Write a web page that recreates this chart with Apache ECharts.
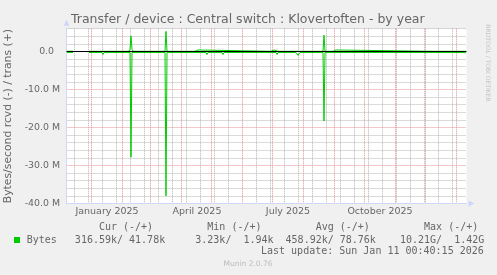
<!DOCTYPE html>
<html><head><meta charset="utf-8">
<script src="https://cdn.jsdelivr.net/npm/echarts@6/dist/echarts.min.js"></script>
<style>html,body{margin:0;padding:0;background:#f0f0f0;}#c{width:497px;height:275px;}</style>
</head><body><div id="c"></div>
<script>
// ---- data (values in M bytes/second) ----
const rcvdDates = ['2024-12-07','2024-12-13','2024-12-14','2024-12-28','2024-12-29','2025-01-11','2025-01-12','2025-01-13','2025-02-08','2025-02-09','2025-02-10','2025-03-15','2025-03-16','2025-03-17','2025-04-25','2025-04-26','2025-04-27','2025-05-11','2025-05-12','2025-05-13','2025-05-30','2025-05-31','2025-06-01','2025-07-04','2025-07-05','2025-07-06','2025-07-24','2025-07-25','2025-07-26','2025-07-27','2025-07-28','2025-08-20','2025-08-21','2025-08-22','2025-09-11','2025-09-12','2025-09-13','2025-09-26','2025-09-27','2025-09-28','2025-10-12','2025-10-13','2025-10-14','2025-11-20','2025-11-21','2025-11-22','2025-12-28','2025-12-29','2025-12-30','2026-01-10'];
const rcvdValues = [0.25,0.25,null,null,0.25,0.25,0.8,0.25,0.25,27.8,0.25,0.25,38.0,0.25,0.25,0.8,0.25,0.25,0.8,0.25,0.25,0.7,0.25,0.25,0.8,0.25,0.25,0.6,1.0,0.5,0.25,0.25,18.3,0.25,0.25,0.7,0.25,0.25,0.7,0.25,0.25,0.7,0.25,0.25,0.7,0.25,0.25,0.7,0.25,0.3];
const transDates = ['2024-12-07','2024-12-08','2024-12-09','2024-12-10','2024-12-13','2024-12-14','2024-12-28','2024-12-29','2025-01-18','2025-01-19','2025-01-20','2025-02-07','2025-02-08','2025-02-09','2025-02-10','2025-02-11','2025-03-15','2025-03-16','2025-03-17','2025-04-14','2025-04-15','2025-04-16','2025-04-17','2025-04-18','2025-06-29','2025-06-30','2025-07-01','2025-07-02','2025-07-03','2025-07-06','2025-07-07','2025-07-08','2025-07-23','2025-07-24','2025-07-25','2025-08-20','2025-08-21','2025-08-22','2025-08-25','2025-08-26','2025-08-27','2025-08-30','2025-08-31','2025-09-01','2025-09-02','2025-09-03','2025-09-04','2025-12-05','2025-12-06','2025-12-07','2025-12-13','2025-12-14','2025-12-15','2026-01-10'];
const transValues = [0.05,0.05,0.4,0.05,0.05,null,null,0.05,0.05,0.4,0.05,0.05,0.6,4.1,0.6,0.05,0.05,5.3,0.05,0.05,0.4,0.4,0.4,0.05,0.05,0.4,0.05,0.4,0.05,0.05,0.4,0.05,0.05,0.4,0.05,0.05,4.3,0.05,0.05,0.4,0.05,0.05,0.4,0.05,0.4,0.4,0.05,0.05,0.4,0.05,0.05,0.4,0.05,0.05];

// ---- axes / grid definitions ----
const xStart = '2024-12-07', xEnd = '2026-01-11';
const monthStarts = ['2025-01-01','2025-02-01','2025-03-01','2025-04-01','2025-05-01','2025-06-01','2025-07-01','2025-08-01','2025-09-01','2025-10-01','2025-11-01','2025-12-01','2026-01-01'];
const weekLines = ['2024-12-15','2024-12-29','2025-01-12','2025-01-26','2025-02-09','2025-02-23','2025-03-09','2025-03-23','2025-04-06','2025-04-20','2025-05-04','2025-05-18','2025-06-15','2025-06-29','2025-07-13','2025-07-27','2025-08-10','2025-08-24','2025-09-07','2025-09-21','2025-10-05','2025-10-19','2025-11-02','2025-11-16','2025-11-30','2025-12-14','2025-12-28'];
const xLabelDates = ['2025-01-16','2025-04-16','2025-07-16','2025-10-16'];
const xLabelTexts = ['January 2025','April 2025','July 2025','October 2025'];
const yMajor = [-40,-30,-20,-10,0];
const yMinor = [-38,-36,-34,-32,-28,-26,-24,-22,-18,-16,-14,-12,-8,-6,-4,-2,2,4,6];
const yMin = -40, yMax = 6;

const M = 1e6;
const day0 = s => Date.parse(s + 'T00:00:00Z');
const noon = s => Date.parse(s + 'T12:00:00Z');
const xLabelTimes = xLabelDates.map(noon);

const rcvdData = rcvdDates.map((d,i) => [noon(d), rcvdValues[i] == null ? null : -rcvdValues[i]*M]);
const transData = transDates.map((d,i) => [noon(d), transValues[i] == null ? null : transValues[i]*M]);

const FONT = 'DejaVu Sans';
const TXT = '#666666';
const GREY = '#b4b4b4', RED = '#e49090', AXIS = '#CFD6F8';

const chart = echarts.init(document.getElementById('c'), null, {renderer:'canvas'});
chart.setOption({
  animation: false,
  backgroundColor: '#f0f0f0',
  title: {
    text: 'Transfer / device : Central switch : Klovertoften - by year',
    left: 66, top: 8,
    textStyle: {fontFamily: FONT, fontSize: 12.5, fontWeight: 'normal', color: TXT}
  },
  grid: {left: 66.5, right: 30.5, top: 28.7, bottom: 71.5, show: true, backgroundColor: '#ffffff', borderWidth: 0, outerBoundsMode: 'none', containLabel: false},
  xAxis: [{
    type: 'value', min: day0(xStart), max: day0(xEnd), position: 'bottom', z: 1,
    axisLine: {onZero: false, lineStyle: {color: AXIS, width: 1}, symbol: ['none','triangle'], symbolSize: [6,6], symbolOffset: [0,5]},
    axisTick: {show: false, customValues: monthStarts.map(day0)},
    splitLine: {show: true, lineStyle: {color: RED, width: 1, type: [1,1]}},
    axisLabel: {
      customValues: xLabelTimes, margin: 3.5,
      fontFamily: FONT, fontSize: 9.5, color: TXT,
      formatter: v => { const i = xLabelTimes.indexOf(v); return i >= 0 ? xLabelTexts[i] : ''; }
    }
  }, {
    type: 'value', min: day0(xStart), max: day0(xEnd), position: 'bottom', z: 0,
    axisLine: {show: false}, axisLabel: {show: false},
    axisTick: {show: false, customValues: weekLines.map(day0)},
    splitLine: {show: true, lineStyle: {color: GREY, width: 1, type: [1,1]}}
  }],
  yAxis: [{
    type: 'value', min: yMin*M, max: yMax*M, position: 'left', z: 1,
    name: 'Bytes/second rcvd (-) / trans (+)', nameLocation: 'middle', nameRotate: 90, nameGap: 49,
    nameTextStyle: {fontFamily: FONT, fontSize: 10.8, color: TXT},
    axisLine: {show: true, onZero: false, lineStyle: {color: AXIS, width: 1}, symbol: ['none','triangle'], symbolSize: [6,6], symbolOffset: [0,6]},
    axisTick: {show: false, customValues: yMajor.map(v => v*M)},
    splitLine: {show: true, lineStyle: {color: RED, width: 1, type: [1,1]}},
    axisLabel: {
      customValues: yMajor.map(v => v*M), margin: 6.5,
      fontFamily: FONT, fontSize: 9.4, color: TXT,
      formatter: v => v === 0 ? '0.0  ' : (v/M).toFixed(1) + ' M'
    }
  }, {
    type: 'value', min: yMin*M, max: yMax*M, position: 'left', z: 0,
    axisLine: {show: false}, axisLabel: {show: false},
    axisTick: {show: false, customValues: yMinor.map(v => v*M)},
    splitLine: {show: true, lineStyle: {color: GREY, width: 1, type: [1,1]}}
  }],
  graphic: [
    {type:'text', x: 487.5, y: 63, rotation: -Math.PI/2, style: {text: 'RRDTOOL / TOBI OETIKER', font: '6px "DejaVu Sans"', fill: '#c4c4c4', align: 'center', verticalAlign: 'middle'}},
    {type:'rect', shape: {x: 14, y: 237, width: 6, height: 6}, style: {fill: '#00cc00'}},
    {type:'text', x: 26.7, y: 227.7, style: {text: '            Cur (-/+)         Min (-/+)         Avg (-/+)         Max (-/+)', font: '10px "DejaVu Sans Mono"', fill: TXT, verticalAlign: 'middle'}},
    {type:'text', x: 26.7, y: 240, style: {text: 'Bytes   316.59k/ 41.78k     3.23k/  1.94k  458.92k/ 78.76k    10.21G/  1.42G', font: '10px "DejaVu Sans Mono"', fill: TXT, verticalAlign: 'middle'}},
    {type:'text', x: 261, y: 251, style: {text: 'Last update: Sun Jan 11 00:40:15 2026', font: '10px "DejaVu Sans Mono"', fill: TXT, verticalAlign: 'middle'}},
    {type:'text', x: 248, y: 264.3, style: {text: 'Munin 2.0.76', font: '7.5px "DejaVu Sans"', fill: '#bbbbbb', align: 'center', verticalAlign: 'middle'}}
  ],
  series: [
    {name: 'rcvd', type: 'line', data: rcvdData, z: 2, showSymbol: false, connectNulls: false,
     lineStyle: {color: '#00cc00', width: 1}, itemStyle: {color: '#00cc00'}},
    {name: 'trans', type: 'line', data: transData, z: 2, showSymbol: false, connectNulls: false,
     lineStyle: {color: '#00cc00', width: 1}, itemStyle: {color: '#00cc00'}},
    {type: 'line', data: [], z: 3, silent: true,
     markLine: {silent: true, symbol: ['none','none'], label: {show: false}, animation: false,
       data: [{yAxis: 0, lineStyle: {color: '#000000', type: 'solid', width: 1}}]}}
  ]
});
</script></body></html>
